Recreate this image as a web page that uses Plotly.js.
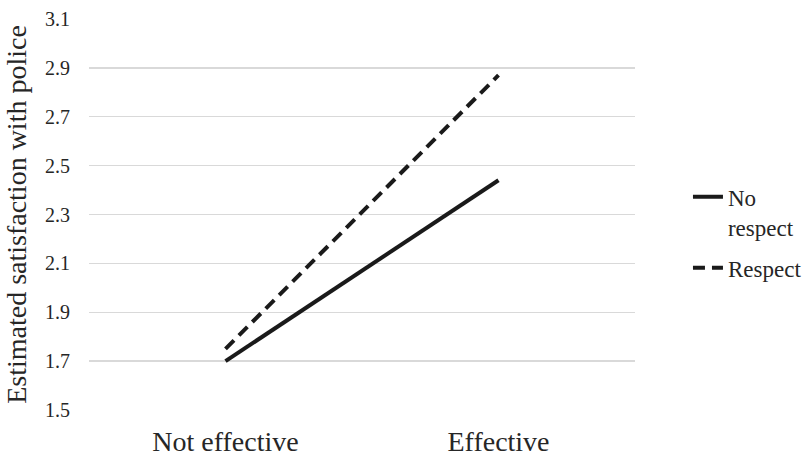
<!DOCTYPE html>
<html>
<head>
<meta charset="utf-8">
<script src="https://cdn.plot.ly/plotly-3.0.1.min.js"></script>
<style>html,body{margin:0;padding:0;background:#fff;}#chart{width:810px;height:457px;}</style>
</head>
<body>
<div id="chart"></div>
<script>
var categories = ["Not effective", "Effective"];
var noRespect = [1.70, 2.44];
var respect = [1.75, 2.87];
var seriesNames = ["No<br>respect", "Respect"];
var yTicks = [1.5, 1.7, 1.9, 2.1, 2.3, 2.5, 2.7, 2.9, 3.1];

var FAMILY = "'Liberation Serif', 'Times New Roman', Times, serif";
var TXT = "#262626";
var lineColor = "#1a1a1a";
var traces = [
  {x: categories, y: noRespect, name: seriesNames[0], type: "scatter", mode: "lines",
   legendgroup: "a", line: {color: lineColor, width: 4}},
  {x: categories, y: respect, name: seriesNames[1], type: "scatter", mode: "lines",
   legendgroup: "b", line: {color: lineColor, width: 4, dash: "12px,7px"}}
];

var layout = {
  width: 810, height: 457,
  margin: {l: 89, r: 175, t: 19, b: 47, autoexpand: false},
  paper_bgcolor: "#fff", plot_bgcolor: "#fff",
  font: {family: FAMILY, color: TXT},
  xaxis: {
    type: "category", range: [-0.5, 1.5], showgrid: false, zeroline: false, showline: false,
    ticks: "", tickfont: {family: FAMILY, size: 28, color: TXT}, ticklabelstandoff: 12
  },
  yaxis: {
    range: [1.5, 3.1], tickvals: yTicks, ticktext: yTicks.map(function(v){return v.toFixed(1);}),
    showgrid: true, gridcolor: "#d9d9d9", gridwidth: 1.3, zeroline: false, showline: false,
    ticks: "", tickfont: {family: FAMILY, size: 20, color: TXT}, ticklabelstandoff: 18,
    title: {text: "Estimated satisfaction with police", font: {family: FAMILY, size: 28, color: TXT}, standoff: 10},
    automargin: false
  },
  showlegend: true,
  legend: {
    x: 1.097, xanchor: "left", y: 0.6, yanchor: "top", valign: "top",
    font: {family: FAMILY, size: 23, color: TXT}, bgcolor: "rgba(0,0,0,0)", tracegroupgap: 8
  }
};

Plotly.newPlot("chart", traces, layout, {displayModeBar: false, staticPlot: true});
</script>
</body>
</html>
